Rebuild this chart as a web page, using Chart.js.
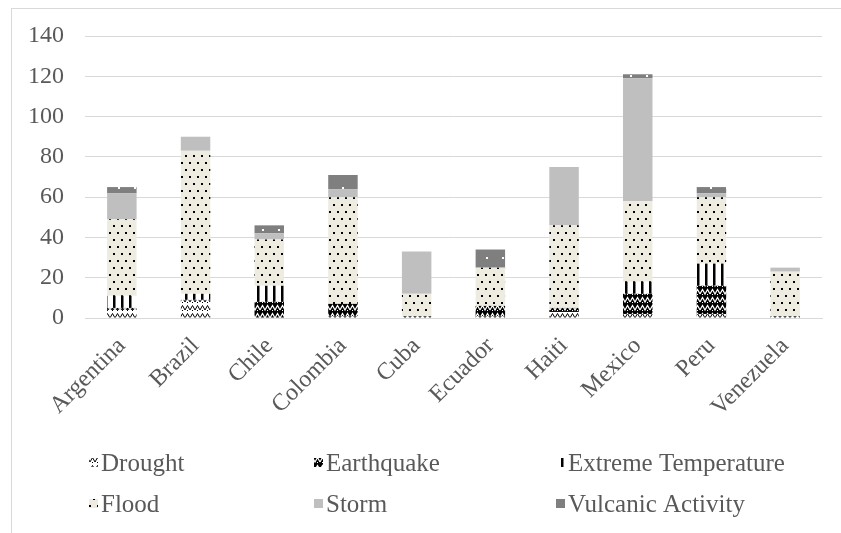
<!DOCTYPE html>
<html>
<head>
<meta charset="utf-8">
<script src="https://cdn.jsdelivr.net/npm/chart.js@4.4.1/dist/chart.umd.min.js"></script>
<style>
  html, body { margin: 0; padding: 0; background: #fff; overflow: hidden; }
  #frame { position: absolute; left: 11px; top: 8px; width: 900px; height: 600px; border: 1px solid #d9d9d9; }
  #wrap { position: absolute; left: 0; top: 0; width: 841px; height: 533px; }
</style>
</head>
<body>
<div id="frame"></div>
<div id="wrap"><canvas id="disasterChart" width="841" height="533"></canvas></div>
<script>
var countries = ['Argentina', 'Brazil', 'Chile', 'Colombia', 'Cuba', 'Ecuador', 'Haiti', 'Mexico', 'Peru', 'Venezuela'];
var drought = [4, 9, 0, 1, 1, 1, 3, 2, 2, 1];
var earthquake = [1, 0, 8, 6, 0, 5, 2, 10, 14, 0];
var extremeTemp = [6, 3, 8, 0, 0, 0, 0, 6, 11, 0];
var flood = [38, 71, 23, 53, 11, 19, 41, 40, 33, 22];
var storm = [13, 7, 3, 4, 21, 0, 29, 61, 2, 2];
var vulcanic = [3, 0, 4, 7, 0, 9, 0, 2, 3, 0];
var yTicks = [0, 20, 40, 60, 80, 100, 120, 140];

var textColor = '#595959';
var fontFamily = '"Liberation Serif", "Times New Roman", serif';

function makePattern(w, h, bg, draw) {
    var c = document.createElement('canvas');
    c.width = w;
    c.height = h;
    var g = c.getContext('2d');
    g.fillStyle = bg;
    g.fillRect(0, 0, w, h);
    draw(g);
    return g.createPattern(c, 'repeat');
}

function zigzag(color, lw) {
    return function (g) {
        g.strokeStyle = color;
        g.lineWidth = lw;
        g.beginPath();
        g.moveTo(0, 6);
        g.lineTo(2.5, 1.5);
        g.lineTo(5, 6);
        g.lineTo(7.5, 1.5);
        g.lineTo(10, 6);
        g.stroke();
        g.fillStyle = color;
        g.fillRect(2, 6, 1, 1);
        g.fillRect(7, 6, 1, 1);
    };
}

var droughtFill = makePattern(10, 8, '#ffffff', zigzag('#000000', 1));
var quakeFill = makePattern(10, 8, '#000000', zigzag('#ffffff', 1.2));
var tempFill = makePattern(8, 8, '#ffffff', function (g) {
    g.fillStyle = '#000000';
    g.fillRect(1, 0, 2.5, 8);
});
var floodFill = makePattern(8, 14, '#eeece1', function (g) {
    g.fillStyle = '#000000';
    g.fillRect(1, 1, 2, 2);
    g.fillRect(5, 8, 2, 2);
});
var vulcanicFill = makePattern(16, 14, '#7f7f7f', function (g) {
    g.fillStyle = '#ffffff';
    g.fillRect(6, 5, 2, 2);
});

var legendCols = [89, 314, 556];
var legendRows = [463, 504];

// legend laid out as a 3 x 2 grid like the original
var gridLegend = {
    id: 'gridLegend',
    afterDraw: function (chart) {
        var ctx = chart.ctx;
        ctx.save();
        ctx.font = '25px ' + fontFamily;
        ctx.textBaseline = 'middle';
        chart.data.datasets.forEach(function (ds, i) {
            var x = legendCols[i % 3];
            var y = legendRows[Math.floor(i / 3)];
            ctx.fillStyle = ds.backgroundColor;
            ctx.fillRect(x, y - 5, 9, 9);
            ctx.fillStyle = textColor;
            ctx.fillText(ds.label, x + 12, y + 1);
        });
        ctx.restore();
    }
};

var ctx = document.getElementById('disasterChart').getContext('2d');

var disasterChart = new Chart(ctx, {
    type: 'bar',
    data: {
        labels: countries,
        datasets: [
            { label: 'Drought', data: drought, backgroundColor: droughtFill },
            { label: 'Earthquake', data: earthquake, backgroundColor: quakeFill },
            { label: 'Extreme Temperature', data: extremeTemp, backgroundColor: tempFill },
            { label: 'Flood', data: flood, backgroundColor: floodFill },
            { label: 'Storm', data: storm, backgroundColor: '#bfbfbf' },
            { label: 'Vulcanic Activity', data: vulcanic, backgroundColor: vulcanicFill }
        ]
    },
    options: {
        responsive: false,
        animation: false,
        categoryPercentage: 1,
        barPercentage: 0.4,
        layout: {
            padding: { top: 36, right: 19, bottom: 0, left: 0 }
        },
        plugins: {
            legend: { display: false },
            tooltip: { enabled: false }
        },
        scales: {
            x: {
                stacked: true,
                grid: { display: false },
                border: { color: '#d9d9d9' },
                ticks: {
                    color: textColor,
                    font: { family: fontFamily, size: 24 },
                    maxRotation: 45,
                    minRotation: 45,
                    padding: 6
                },
                afterFit: function (scale) { scale.height = 215; }
            },
            y: {
                stacked: true,
                min: 0,
                max: 140,
                grid: { color: '#d9d9d9', drawTicks: false },
                border: { display: false },
                afterBuildTicks: function (scale) {
                    scale.ticks = yTicks.map(function (v) { return { value: v }; });
                },
                ticks: {
                    color: textColor,
                    font: { family: fontFamily, size: 24 },
                    padding: 21
                },
                afterFit: function (scale) { scale.width = 85; }
            }
        }
    },
    plugins: [gridLegend]
});
</script>
</body>
</html>
